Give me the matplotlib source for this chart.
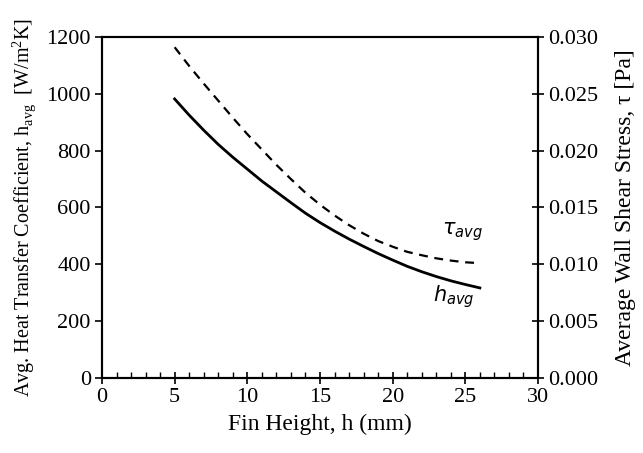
import matplotlib
matplotlib.use("Agg")
import matplotlib.pyplot as plt
from matplotlib.ticker import MultipleLocator, FormatStrFormatter

plt.rcParams['font.family'] = ['Liberation Serif', 'DejaVu Serif']
plt.rcParams['mathtext.fontset'] = 'dejavusans'

# fin height (mm)
fin_h = [5, 6, 7, 8, 9, 10, 11, 12, 13, 14, 15, 16, 17, 18, 19, 20, 21, 22, 23, 24, 25, 26]
# average heat transfer coefficient (W/m2K)
h_avg = [982, 925, 872, 822, 777, 735, 693, 655, 617, 580, 547, 517, 489, 463, 438, 415,
         393, 374, 357, 342, 329, 317]
# average wall shear stress (Pa)
tau_avg = [0.0291, 0.02745, 0.0259, 0.0244, 0.0229, 0.02145, 0.0201, 0.01875, 0.0175, 0.0163,
           0.01525, 0.0143, 0.01345, 0.0127, 0.01205, 0.01155, 0.0111, 0.0108, 0.01053, 0.01033,
           0.01018, 0.0101]

tick_fs = 16

fig = plt.figure(figsize=(6.43, 4.53), dpi=100)
ax = fig.add_axes([0.1586, 0.1656, 0.6781, 0.7527])
ax2 = ax.twinx()

ax.plot(fin_h, h_avg, color='black', linewidth=2.0)
ax2.plot(fin_h, tau_avg, color='black', linewidth=1.6, linestyle=(0, (4, 3)))

ax.set_xlim(0, 30)
ax.set_ylim(0, 1200)
ax2.set_ylim(0, 0.030)

ax.xaxis.set_major_locator(MultipleLocator(5))
ax.xaxis.set_minor_locator(MultipleLocator(1))
ax.yaxis.set_major_locator(MultipleLocator(200))
ax2.yaxis.set_major_locator(MultipleLocator(0.005))
ax2.yaxis.set_major_formatter(FormatStrFormatter('%.3f'))

ax.tick_params(axis='x', which='major', direction='inout', length=8, width=1.2, labelsize=tick_fs, pad=3)
ax.tick_params(axis='x', which='minor', direction='in', length=4, width=1.0)
ax.tick_params(axis='y', which='major', direction='out', length=5, width=1.2, labelsize=tick_fs, pad=3)
ax2.tick_params(axis='y', which='major', direction='inout', length=8, width=1.2, labelsize=tick_fs, pad=3)

for a in (ax, ax2):
    for s in a.spines.values():
        s.set_linewidth(1.5)

ax.set_xlabel('Fin Height, h (mm)', fontsize=17, labelpad=5)
ax.set_ylabel(r'Avg. Heat Transfer Coefficient, h$_{\mathregular{avg}}$  [W/m$^{\mathregular{2}}$K]',
              fontsize=14.5, labelpad=6)
ax2.set_ylabel('Average Wall Shear Stress, τ [Pa]', fontsize=17, labelpad=12)

ax.text(24.8, 514, r'$\tau_{avg}$', fontsize=15, ha='center', va='center')
ax.text(24.2, 285, r'$h_{avg}$', fontsize=15, ha='center', va='center')

fig.savefig('out.png', dpi=100)
